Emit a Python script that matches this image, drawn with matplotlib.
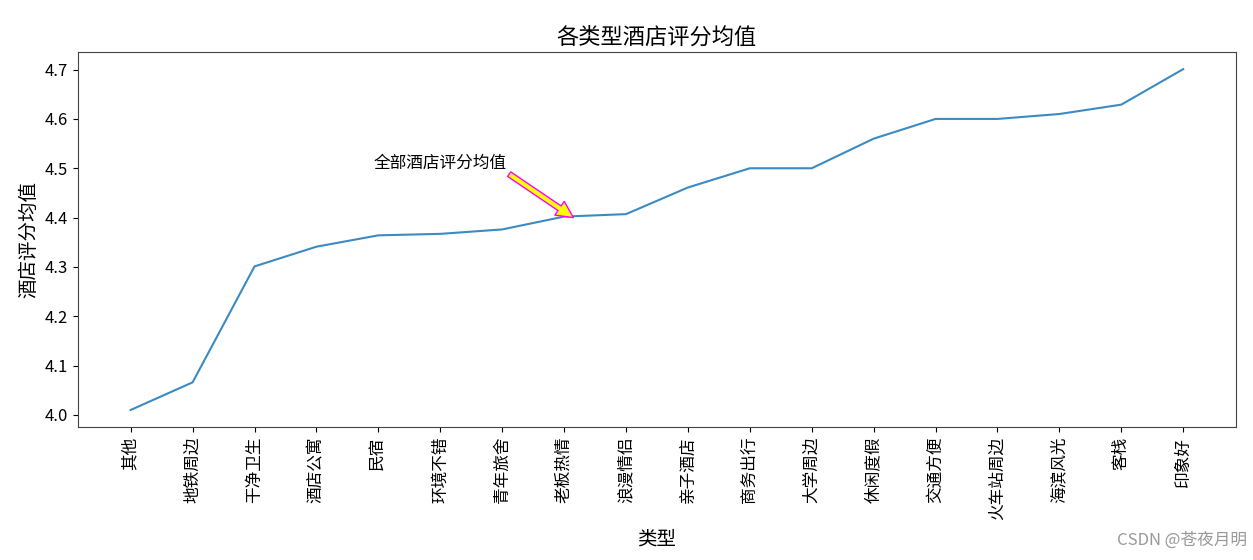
import matplotlib
matplotlib.use('Agg')
import matplotlib.pyplot as plt

plt.rcParams['font.family'] = ['Noto Sans CJK SC', 'DejaVu Sans']
plt.rcParams['axes.unicode_minus'] = False

types = ['其他', '地铁周边', '干净卫生', '酒店公寓', '民宿', '环境不错', '青年旅舍', '老板热情',
         '浪漫情侣', '亲子酒店', '商务出行', '大学周边', '休闲度假', '交通方便', '火车站周边',
         '海滨风光', '客栈', '印象好']
scores = [4.010, 4.066, 4.301, 4.341, 4.364, 4.367, 4.376, 4.402, 4.407, 4.461,
          4.500, 4.500, 4.560, 4.600, 4.600, 4.610, 4.629, 4.701]

fig = plt.figure(figsize=(12.53, 5.6), dpi=100)
ax = fig.add_axes([0.0623, 0.2375, 0.924, 0.6695])

ax.plot(types, scores, color='#3b8bc2', linewidth=1.5)
ax.set_title('各类型酒店评分均值', fontsize=16)
ax.set_xlabel('类型', fontsize=14, labelpad=6)
ax.set_ylabel('酒店评分均值', fontsize=14)
ax.tick_params(axis='x', labelrotation=90, labelsize=12)
ax.tick_params(axis='y', labelsize=12)
ax.set_yticks([4.0, 4.1, 4.2, 4.3, 4.4, 4.5, 4.6, 4.7])

ax.annotate('全部酒店评分均值', xy=(7.15, 4.4), xytext=(3.92, 4.5), fontsize=12,
            arrowprops=dict(facecolor='yellow', edgecolor='magenta', width=4, headwidth=12,
                            headlength=12, shrink=0))

for s in ax.spines.values():
    s.set_color('#444444')

fig.text(0.995, 0.02, 'CSDN @苍夜月明', ha='right', va='bottom', fontsize=12, color='#999999')

fig.savefig('out.png', dpi=100)
